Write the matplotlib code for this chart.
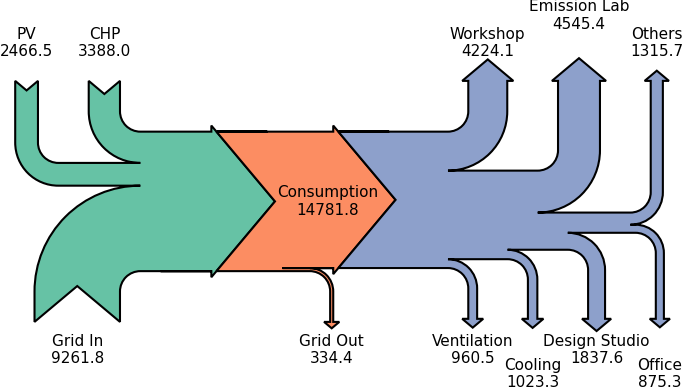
import matplotlib
matplotlib.use('Agg')
import matplotlib.pyplot as plt
from matplotlib.sankey import Sankey

# energy sources (kWh), in the order they join the trunk
source_labels = ['CHP', 'PV', 'Grid In']
source_values = [3388.0, 2466.5, 9261.8]
source_orient = [1, 1, -1]

consumption = 14781.8
grid_out = 334.4

# consumers (top ones first, bottom ones from outside in)
sink_labels = ['Workshop', 'Emission Lab', 'Others',
               'Office', 'Design Studio', 'Cooling', 'Ventilation']
sink_values = [4224.1, 4545.4, 1315.7, 875.3, 1837.6, 1023.3, 960.5]
sink_orient = [1, 1, 1, -1, -1, -1, -1]

plt.rcParams['font.size'] = 11

fig = plt.figure(figsize=(6.85, 3.9), dpi=100)
ax = fig.add_axes([0, 0, 1, 1])
ax.axis('off')

sankey = Sankey(ax=ax, scale=1 / 22000, unit='', format='%.1f',
                gap=0.25, radius=0.1, shoulder=0.03, head_angle=100)

total_in = sum(source_values)
sankey.add(flows=source_values + [-total_in],
           orientations=source_orient + [0],
           labels=source_labels + [None],
           trunklength=0.70, facecolor='#66c2a5', edgecolor='black', lw=1.5)
sankey.add(flows=[total_in, -grid_out, -consumption],
           orientations=[0, -1, 0],
           labels=[None, 'Grid Out', None],
           patchlabel='Consumption\n%.1f' % consumption,
           trunklength=0.81, prior=0, connect=(3, 0),
           facecolor='#fc8d62', edgecolor='black', lw=1.5)
sankey.add(flows=[consumption] + [-v for v in sink_values],
           orientations=[0] + sink_orient,
           labels=[None] + sink_labels,
           trunklength=0.89, prior=1, connect=(2, 0),
           facecolor='#8da0cb', edgecolor='black', lw=1.5)
diagrams = sankey.finish()

# stagger the labels in rows so they don't collide
top, high, bottom, low = 0.78, 0.916, -0.732, -0.85
rows = {'PV': top, 'CHP': top, 'Workshop': top, 'Others': top,
        'Emission Lab': high,
        'Grid In': bottom, 'Grid Out': bottom, 'Ventilation': bottom,
        'Design Studio': bottom,
        'Cooling': low, 'Office': low}
for d in diagrams:
    for t in d.texts:
        name = t.get_text().split('\n')[0]
        if name in rows:
            t.set_y(rows[name])

diagrams[1].text.set_position((0.675, 0.0))

ax.set_xlim(-0.941, 2.433)
ax.set_ylim(-0.929, 0.992)
ax.set_aspect('auto')

fig.savefig('out.png', dpi=100)
plt.close(fig)
